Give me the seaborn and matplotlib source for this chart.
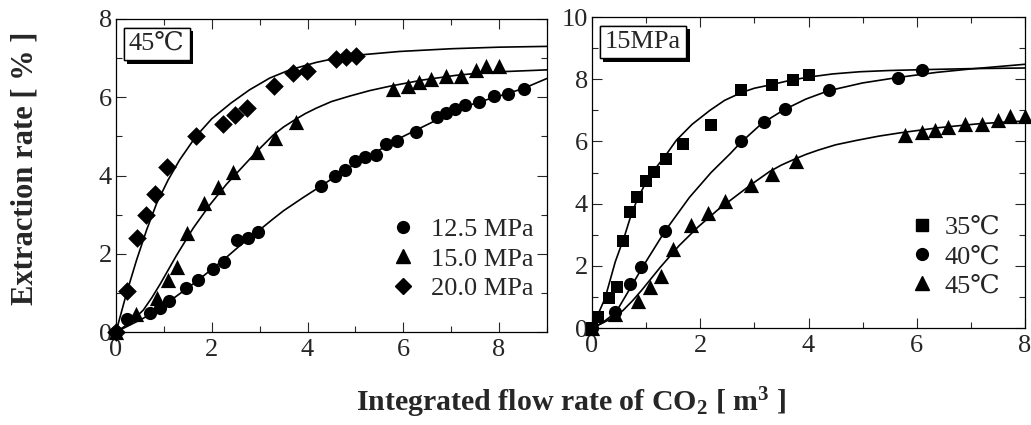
import numpy as np
import pandas as pd
import matplotlib
matplotlib.use("Agg")
import matplotlib.pyplot as plt
import matplotlib.patheffects as pe
from matplotlib.lines import Line2D
from matplotlib.ticker import MultipleLocator
import seaborn as sns

# --- data ---
# left panel: 45 C, three pressures (markers)
p125_x = [0, 0.22, 0.70, 0.92, 1.10, 1.47, 1.71, 2.03, 2.26, 2.53, 2.75, 2.97, 4.28, 4.58, 4.78, 4.99,
          5.20, 5.42, 5.63, 5.87, 6.27, 6.70, 6.90, 7.09, 7.29, 7.59, 7.90, 8.18, 8.52]
p125_y = [0, 0.34, 0.48, 0.62, 0.78, 1.12, 1.34, 1.62, 1.80, 2.34, 2.40, 2.56, 3.73, 3.99, 4.14, 4.36,
          4.47, 4.53, 4.81, 4.89, 5.11, 5.49, 5.61, 5.70, 5.81, 5.87, 6.02, 6.08, 6.21]
p150_x = [0, 0.42, 0.85, 1.08, 1.27, 1.49, 1.83, 2.14, 2.45, 2.94, 3.32, 3.76, 5.78, 6.10, 6.33, 6.57,
          6.90, 7.21, 7.51, 7.72, 8.00]
p150_y = [0, 0.45, 0.88, 1.32, 1.67, 2.53, 3.30, 3.71, 4.08, 4.59, 4.95, 5.38, 6.20, 6.30, 6.38, 6.47,
          6.55, 6.55, 6.69, 6.81, 6.81]
p200_x = [0, 0.23, 0.44, 0.63, 0.82, 1.06, 1.67, 2.23, 2.49, 2.74, 3.31, 3.69, 3.98, 4.60, 4.81, 5.02]
p200_y = [0, 1.05, 2.41, 3.00, 3.52, 4.23, 5.00, 5.32, 5.55, 5.72, 6.28, 6.62, 6.68, 6.98, 7.03, 7.05]

# fitted curves (traced)
c125_x = [0, 0.57, 1.11, 1.69, 2.25, 2.6, 3.0, 3.25, 3.5, 3.9, 4.28, 4.6, 5.0, 5.5, 6.0, 6.5, 7.0, 7.5,
          8.0, 8.5, 9.0]
c125_y = [0, 0.35, 0.78, 1.30, 1.85, 2.22, 2.61, 2.86, 3.10, 3.43, 3.73, 3.99, 4.30, 4.65, 5.00, 5.30,
          5.60, 5.85, 6.03, 6.22, 6.48]
c150_x = [0, 0.15, 0.35, 0.57, 0.75, 0.92, 1.26, 1.61, 1.96, 2.31, 2.65, 2.93, 3.28, 3.50, 3.73, 3.95,
          4.18, 4.50, 4.88, 5.30, 5.71, 6.40, 7.10, 7.79, 9.0]
c150_y = [0, 0.12, 0.30, 0.56, 0.88, 1.22, 1.95, 2.65, 3.25, 3.78, 4.23, 4.60, 5.03, 5.24, 5.42, 5.58,
          5.72, 5.89, 6.03, 6.17, 6.28, 6.44, 6.56, 6.64, 6.70]
c200_x = [0, 0.1, 0.22, 0.43, 0.64, 0.85, 1.09, 1.33, 1.5, 1.67, 2.0, 2.4, 2.79, 3.21, 3.63, 4.18, 4.6,
          5.08, 5.92, 7.0, 8.0, 9.0]
c200_y = [0, 0.45, 0.99, 1.84, 2.61, 3.29, 3.89, 4.40, 4.70, 5.00, 5.45, 5.85, 6.19, 6.49, 6.70, 6.89,
          7.00, 7.08, 7.17, 7.24, 7.28, 7.30]

# right panel: 15 MPa, three temperatures
t35_x = [0, 0.11, 0.31, 0.47, 0.57, 0.71, 0.83, 0.99, 1.15, 1.36, 1.69, 2.19, 2.76, 3.33, 3.71, 4.01]
t35_y = [0, 0.37, 0.98, 1.32, 2.80, 3.74, 4.20, 4.74, 5.02, 5.45, 5.92, 6.52, 7.66, 7.82, 7.98, 8.12]
t40_x = [0, 0.42, 0.71, 0.91, 1.34, 2.76, 3.17, 3.57, 4.38, 5.65, 6.10]
t40_y = [0, 0.51, 1.43, 1.97, 3.13, 6.02, 6.62, 7.04, 7.66, 8.05, 8.30]
t45_x = p150_x
t45_y = p150_y

c35_x = [0, 0.24, 0.43, 0.60, 0.72, 0.84, 0.99, 1.13, 1.36, 1.56, 1.85, 2.18, 2.45, 2.76, 3.0, 3.33,
         3.65, 4.01, 4.45, 4.95, 5.5, 6.18, 7.0, 8.0]
c35_y = [0, 0.95, 2.13, 2.95, 3.62, 4.15, 4.66, 5.04, 5.55, 6.04, 6.55, 7.00, 7.32, 7.57, 7.71, 7.83,
         7.96, 8.07, 8.17, 8.24, 8.28, 8.31, 8.34, 8.36]
c40_x = [0, 0.2, 0.44, 0.72, 0.92, 1.35, 1.8, 2.2, 2.55, 2.74, 3.14, 3.55, 3.95, 4.37, 5.0, 5.63, 6.37,
         7.0, 8.0]
c40_y = [0, 0.18, 0.50, 1.32, 1.92, 3.12, 4.20, 5.00, 5.60, 5.95, 6.58, 7.02, 7.36, 7.63, 7.88, 8.05,
         8.22, 8.33, 8.48]
c45_x = c150_x
c45_y = c150_y

left_labels = ["12.5 MPa", "15.0 MPa", "20.0 MPa"]
right_labels = ["35℃", "40℃", "45℃"]

sns.set_style("ticks")
plt.rcParams['font.family'] = ['Liberation Serif', 'DejaVu Serif']
plt.rcParams['mathtext.fontset'] = 'custom'
plt.rcParams['mathtext.rm'] = 'Liberation Serif:bold'
plt.rcParams['mathtext.bf'] = 'Liberation Serif:bold'
plt.rcParams['mathtext.it'] = 'Liberation Serif:bold'

FS = 19
fig = plt.figure(figsize=(10.31, 4.25), dpi=100)
axL = fig.add_axes([0.1125, 0.2188, 0.418, 0.7365])
axR = fig.add_axes([0.5742, 0.2282, 0.42, 0.7318])


def draw(ax, pts, curves, markers, sizes):
    for (cx, cy) in curves:
        df = pd.DataFrame({"x": cx, "y": cy})
        sns.lineplot(data=df, x="x", y="y", ax=ax, color="black", lw=1.2,
                     sort=False, estimator=None, zorder=2)
    for (px, py), m, s in zip(pts, markers, sizes):
        df = pd.DataFrame({"x": px, "y": py})
        sns.scatterplot(data=df, x="x", y="y", ax=ax, marker=m, s=s, color="black",
                        edgecolor="black", linewidth=0, zorder=3, clip_on=False)


def style(ax, xmax, ymax):
    ax.set_xlim(0, xmax)
    ax.set_ylim(0, ymax)
    ax.xaxis.set_major_locator(MultipleLocator(2))
    ax.xaxis.set_minor_locator(MultipleLocator(1))
    ax.yaxis.set_major_locator(MultipleLocator(2))
    ax.yaxis.set_minor_locator(MultipleLocator(1))
    ax.tick_params(which="both", direction="in", top=True, right=True, labelsize=FS, width=0.8)
    ax.tick_params(which="major", length=7)
    ax.tick_params(which="minor", length=4)
    ax.tick_params(axis="x", pad=5)
    ax.tick_params(axis="y", pad=3)
    ax.set_xlabel("")
    ax.set_ylabel("")
    for sp in ax.spines.values():
        sp.set_visible(True)
        sp.set_linewidth(0.9)
        sp.set_color("black")


draw(axL, [(p125_x, p125_y), (p150_x, p150_y), (p200_x, p200_y)],
     [(c125_x, c125_y), (c150_x, c150_y), (c200_x, c200_y)],
     ["o", "^", "D"], [90, 120, 90])
style(axL, 9, 8)

draw(axR, [(t35_x, t35_y), (t40_x, t40_y), (t45_x, t45_y)],
     [(c35_x, c35_y), (c40_x, c40_y), (c45_x, c45_y)],
     ["s", "o", "^"], [85, 90, 120])
style(axR, 8, 10)


def legend(ax, markers, labels, anchor, gap):
    handles = [Line2D([], [], ls="none", marker=m, color="black", markersize=ms)
               for m, ms in markers]
    ax.legend(handles, labels, loc="upper left", bbox_to_anchor=anchor, frameon=False,
              fontsize=FS, handlelength=1.0, handletextpad=gap, labelspacing=0.22,
              borderpad=0, borderaxespad=0)


legend(axL, [("o", 8.5), ("^", 10), ("D", 8.5)], left_labels, (0.636, 0.365), 0.55)
legend(axR, [("s", 8.5), ("o", 8.5), ("^", 10)], right_labels, (0.732, 0.362), 0.35)


def tag(ax, text, x, y):
    t = ax.text(x, y, text, transform=ax.transAxes, fontsize=FS, ha="left", va="top",
                bbox=dict(boxstyle="square,pad=0.2", fc="white", ec="black", lw=1.0))
    t.get_bbox_patch().set_path_effects([pe.withSimplePatchShadow(offset=(2.5, -2.5),
                                                                  shadow_rgbFace="black", alpha=1.0),
                                         pe.Normal()])


tag(axL, "45℃", 0.03, 0.955)
tag(axR, "15MPa", 0.03, 0.955)

fig.text(25 / 1031, 1 - 168 / 425, "Extraction rate [ % ]", rotation=90, ha="center", va="center",
         fontsize=22, fontweight="bold")
fig.text(571 / 1031, 1 - 403 / 425, r"Integrated flow rate of CO$_\mathbf{2}$ [ m$^\mathbf{3}$ ]",
         ha="center", va="center", fontsize=21.5, fontweight="bold")

fig.savefig("out.png", dpi=100)
